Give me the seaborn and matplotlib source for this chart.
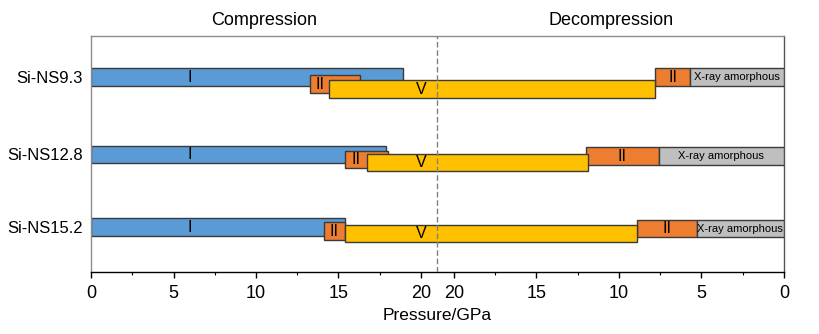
import matplotlib
matplotlib.use("Agg")
import matplotlib.pyplot as plt
import seaborn as sns
import numpy as np

# ---------------- data ----------------
samples = ["Si-NS9.3", "Si-NS12.8", "Si-NS15.2"]
comp_I_end = [18.9, 17.9, 15.4]          # phase I: 0 -> end (compression)
comp_II_start = [13.3, 15.4, 14.1]       # phase II (compression)
comp_II_end = [16.3, 18.0, 15.4]
comp_V_start = [14.4, 16.7, 15.4]        # phase V starts on compression ...
decomp_V_end = [7.8, 11.9, 8.9]          # ... and persists down to this decompression pressure
decomp_II_start = [7.8, 12.0, 8.9]       # phase II on decompression
decomp_II_end = [5.7, 7.6, 5.3]          # then X-ray amorphous down to 0
p_max = 21.0
comp_ticks = [0, 5, 10, 15, 20]
decomp_ticks = [20, 15, 10, 5, 0]

# ---------------- layout / style ----------------
row_y = [41.2, 118.5, 191.0]
off_II = [7.0, 5.0, 4.0]
off_V = [12.0, 8.0, 6.5]
off_dII = [0.0, 1.7, 1.5]
bar_h = 17.5
c_I, c_II, c_V, c_A = "#5B9BD5", "#ED7D31", "#FFC000", "#BFBFBF"
edge = "#3a3a3a"

sns.set_theme(style="white")
plt.rcParams["font.family"] = ["Liberation Sans", "DejaVu Sans"]
plt.rcParams["text.color"] = "black"
plt.rcParams["xtick.color"] = "black"
plt.rcParams["ytick.color"] = "black"
plt.rcParams["axes.labelcolor"] = "black"

fig = plt.figure(figsize=(8.19, 3.34), dpi=100)
ax = fig.add_axes([91 / 819, 62 / 334, (784 - 91) / 819, (272 - 36) / 334])

def dx(p):
    return 2 * p_max - p

kw = dict(edgecolor=edge, linewidth=1.0)
for i in range(len(samples)):
    y0 = row_y[i]
    # phase I
    ax.barh(y0, comp_I_end[i], left=0, height=bar_h, color=c_I, zorder=2, **kw)
    ax.text(6.0, y0, "I", ha="center", va="center", fontsize=11.5, zorder=6)
    # phase II compression
    ax.barh(y0 + off_II[i], comp_II_end[i] - comp_II_start[i], left=comp_II_start[i],
            height=bar_h, color=c_II, zorder=3, **kw)
    vis_end = min(comp_II_end[i], comp_V_start[i])
    ax.text((comp_II_start[i] + vis_end) / 2, y0 + off_II[i], "II", ha="center",
            va="center", fontsize=11.5, zorder=6)
    # phase II decompression
    ax.barh(y0 + off_dII[i], decomp_II_start[i] - decomp_II_end[i],
            left=dx(decomp_II_start[i]), height=bar_h, color=c_II, zorder=3, **kw)
    ax.text((dx(decomp_II_start[i]) + dx(decomp_II_end[i])) / 2, y0 + off_dII[i], "II",
            ha="center", va="center", fontsize=11.5, zorder=6)
    # X-ray amorphous
    ax.barh(y0 + off_dII[i], decomp_II_end[i], left=dx(decomp_II_end[i]),
            height=bar_h, color=c_A, zorder=3, **kw)
    ax.text((dx(decomp_II_end[i]) + dx(0)) / 2, y0 + off_dII[i], "X-ray amorphous",
            ha="center", va="center", fontsize=8, zorder=6)
    # phase V
    ax.barh(y0 + off_V[i], dx(decomp_V_end[i]) - comp_V_start[i], left=comp_V_start[i],
            height=bar_h, color=c_V, zorder=4, **kw)
    ax.text(20.0, y0 + off_V[i], "V", ha="center", va="center", fontsize=11.5, zorder=6)

ax.axvline(p_max, color="#808080", linestyle=(0, (4, 2)), linewidth=1.0, zorder=5)

ax.set_xlim(0, 2 * p_max)
ax.set_ylim(236, 0)

major = comp_ticks + [dx(t) for t in decomp_ticks]
labels = [str(t) for t in comp_ticks] + [str(t) for t in decomp_ticks]
ax.set_xticks(major)
ax.set_xticklabels(labels, fontsize=13)
minor = [t + 2.5 for t in comp_ticks[:-1]] + [dx(t - 2.5) for t in decomp_ticks[:-1]]
ax.set_xticks(minor, minor=True)
ax.tick_params(axis="x", which="major", bottom=True, direction="out", length=4, width=1,
               color="black", pad=5)
ax.tick_params(axis="x", which="minor", bottom=True, direction="out", length=2.5, width=0.8,
               color="black")
ax.set_yticks(row_y)
ax.set_yticklabels(samples, fontsize=12)
ax.tick_params(axis="y", left=False, length=0, pad=6)

ax.set_xlabel("Pressure/GPa", fontsize=12.5, labelpad=5)
ax.text(p_max / 2, 1.03, "Compression", transform=ax.get_xaxis_transform(),
        ha="center", va="bottom", fontsize=13)
ax.text(p_max * 1.5, 1.03, "Decompression", transform=ax.get_xaxis_transform(),
        ha="center", va="bottom", fontsize=13)

for s in ["left", "top"]:
    ax.spines[s].set_color("#8c8c8c")
    ax.spines[s].set_linewidth(1.0)
ax.spines["right"].set_color("#555555")
ax.spines["right"].set_linewidth(1.0)
ax.spines["bottom"].set_color("black")
ax.spines["bottom"].set_linewidth(1.0)
for s in ax.spines.values():
    s.set_visible(True)

fig.savefig("out.png", dpi=100)
